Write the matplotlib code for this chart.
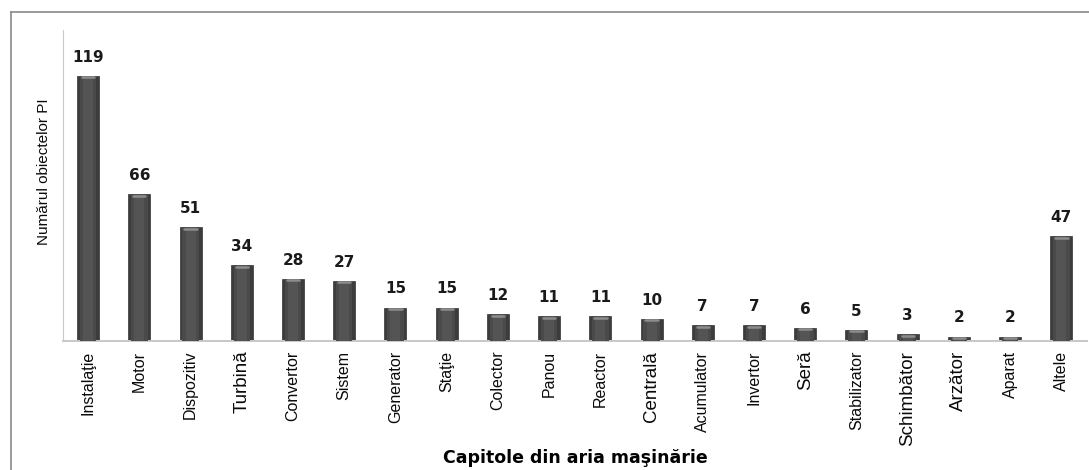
import numpy as np
import matplotlib

matplotlib.use("Agg")
import matplotlib.pyplot as plt
from matplotlib.lines import Line2D

categories = ["Instalaţie", "Motor", "Dispozitiv", "Turbină", "Convertor", "Sistem",
              "Generator", "Staţie", "Colector", "Panou", "Reactor", "Centrală",
              "Acumulator", "Invertor", "Seră", "Stabilizator", "Schimbător",
              "Arzător", "Aparat", "Altele"]
counts = [119, 66, 51, 34, 28, 27, 15, 15, 12, 11, 11, 10, 7, 7, 6, 5, 3, 2, 2, 47]

# labels that appear in a slightly larger type in the original
big_labels = {"Turbină", "Centrală", "Schimbător", "Arzător", "Seră"}

fig = plt.figure(figsize=(10.89, 4.70), dpi=100)
ax = fig.add_axes([63 / 1089, 1 - 341 / 470, 1024 / 1089, 311 / 470])

x = np.arange(len(categories))
w = 0.43
# cylinder-ish look: dark rim, lighter core, pale cap
ax.bar(x, counts, width=w, color="#3c3c3c", edgecolor="#333333", linewidth=0.5, zorder=2)
ax.bar(x, counts, width=w * 0.75, color="#4a4a4a", linewidth=0, zorder=3)
ax.bar(x, counts, width=w * 0.45, color="#545454", linewidth=0, zorder=3)
for xi, c in zip(x, counts):
    ax.plot([xi - w * 0.28, xi + w * 0.28], [c - 0.7, c - 0.7], color="#8c8c8c",
            lw=1.8, solid_capstyle="round", zorder=4)
    ax.annotate(str(c), (xi, c), xytext=(0, 8), textcoords="offset points",
                ha="center", va="bottom", fontsize=11, fontweight="bold",
                family="DejaVu Sans", color="#1a1a1a")

ax.set_xlim(-0.49, 19.5)
ax.set_ylim(0, 139.6)
ax.set_yticks([])
ax.set_xticks(x)
ax.set_xticklabels(categories, rotation=90, family="Liberation Sans")
for lbl in ax.get_xticklabels():
    lbl.set_fontsize(13.5 if lbl.get_text() in big_labels else 11.5)
    lbl.set_color("#0a0a0a")
ax.tick_params(axis="x", length=0, pad=7)

for side in ("top", "right"):
    ax.spines[side].set_visible(False)
ax.spines["left"].set_color("#c8c8c8")
ax.spines["bottom"].set_color("#c8c8c8")
ax.spines["bottom"].set_linewidth(1.4)

fig.text(44 / 1089, 1 - 172 / 470, "Numărul obiectelor PI", rotation=90, ha="center",
         va="center", fontsize=11, family="Liberation Sans", color="#0a0a0a")
fig.text(575 / 1089, 3 / 470, "Capitole din aria maşinărie", ha="center",
         va="bottom", fontsize=12.5, fontweight="bold", family="DejaVu Sans")

# outer frame of the original chart area (cut off at the right and bottom)
fig.add_artist(Line2D([11 / 1089, 11 / 1089], [0, 1 - 12 / 470], color="#8a8a8a", lw=1.2))
fig.add_artist(Line2D([11 / 1089, 1], [1 - 12 / 470, 1 - 12 / 470], color="#8a8a8a", lw=1.2))

fig.savefig("out.png", dpi=100)
